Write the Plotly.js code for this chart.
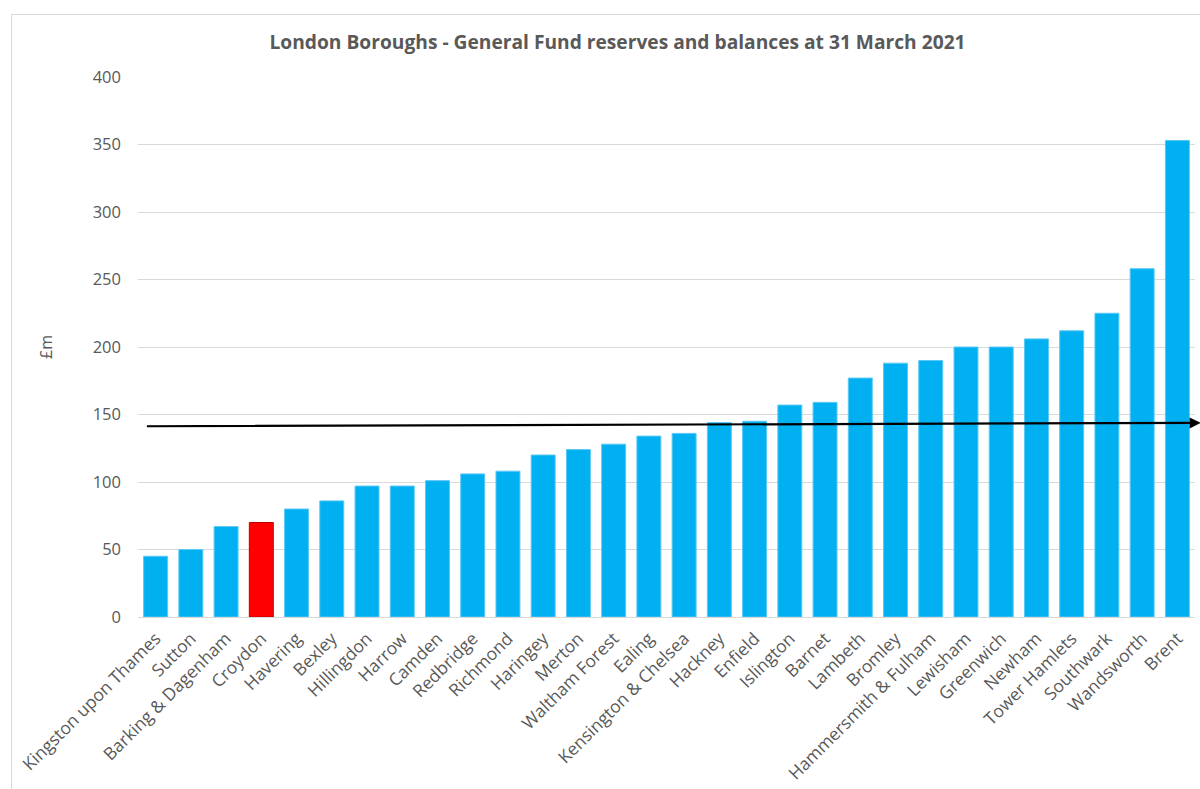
<!DOCTYPE html>
<html>
<head>
<meta charset="utf-8">
<script src="https://cdn.plot.ly/plotly-3.0.1.min.js"></script>
<style>
html,body{margin:0;padding:0;background:#fff;}
#chart{width:1200px;height:789px;}
</style>
</head>
<body>
<div id="chart"></div>
<script>
const boroughs = ["Kingston upon Thames","Sutton","Barking & Dagenham","Croydon","Havering","Bexley","Hillingdon","Harrow","Camden","Redbridge","Richmond","Haringey","Merton","Waltham Forest","Ealing","Kensington & Chelsea","Hackney","Enfield","Islington","Barnet","Lambeth","Bromley","Hammersmith & Fulham","Lewisham","Greenwich","Newham","Tower Hamlets","Southwark","Wandsworth","Brent"];
const reserves = [45,50,67,70,80,86,97,97,101,106,108,120,124,128,134,136,144,145,157,159,177,188,190,200,200,206,212,225,258,353];
const highlight = "Croydon";
const lineStartEnd = [141.3, 143.8]; // drawn arrow line, £m at left and right ends
const yTicks = [0,50,100,150,200,250,300,350,400];

const colors = boroughs.map(b => b === highlight ? "#FF0000" : "#00B0F0");
const lineColors = boroughs.map(b => b === highlight ? "#C00000" : "#5BC8F5");

const trace = {
  type: "bar",
  x: boroughs,
  y: reserves,
  marker: {color: colors, line: {color: lineColors, width: 1}},
  width: 0.68,
  hoverinfo: "x+y"
};

const layout = {
  width: 1200, height: 789,
  margin: {l: 138, r: 5, t: 77, b: 172},
  paper_bgcolor: "#fff", plot_bgcolor: "#fff",
  font: {family: "Open Sans, sans-serif", color: "#595959"},
  title: {text: "<b>London Boroughs - General Fund reserves and balances at 31 March 2021</b>",
          font: {size: 19.2, color: "#595959", family: "Open Sans, sans-serif"},
          x: 0.4537, xanchor: "center", y: 0.947, yanchor: "middle", xref: "paper"},
  showlegend: false,
  xaxis: {
    type: "category",
    range: [-0.5, 29.5],
    tickangle: -45,
    tickfont: {size: 17.4, color: "#595959"},
    ticklabelstandoff: 7,
    showgrid: false, showline: false, zeroline: false, ticks: ""
  },
  yaxis: {
    range: [0, 400],
    tickvals: yTicks,
    tickfont: {size: 16.5, color: "#595959"},
    showgrid: true, gridcolor: "#d9d9d9", gridwidth: 1,
    zeroline: true, zerolinecolor: "#d9d9d9", zerolinewidth: 1,
    showline: false, ticks: "",
    ticklabelstandoff: 16,
    title: {text: "£m", font: {size: 16, color: "#595959"}, standoff: 36}
  },
  annotations: [{
    xref: "x", yref: "y", axref: "x", ayref: "y",
    x: 29.66, y: lineStartEnd[1],
    ax: -0.29, ay: lineStartEnd[0],
    showarrow: true, arrowhead: 2, arrowsize: 1, arrowwidth: 2.2,
    arrowcolor: "#000", text: "", standoff: 0, startstandoff: 0
  }],
  shapes: [{
    type: "rect", xref: "paper", yref: "paper",
    x0: (11.5 - 138) / 1057, x1: 1.2,
    y0: -0.5, y1: (617 - 14.5) / 540,
    line: {color: "#d9d9d9", width: 1}, fillcolor: "rgba(0,0,0,0)", layer: "below"
  }]
};

Plotly.newPlot("chart", [trace], layout, {displayModeBar: false, staticPlot: true});
</script>
</body>
</html>
